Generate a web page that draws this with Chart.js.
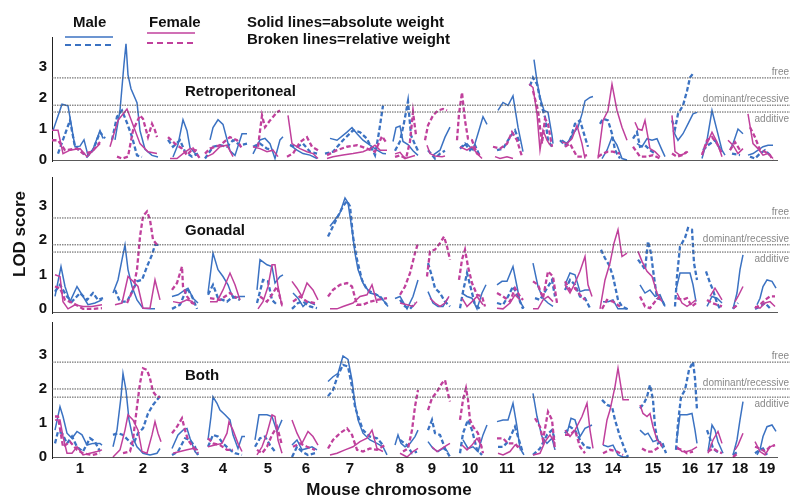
<!DOCTYPE html>
<html>
<head>
<meta charset="utf-8">
<script src="https://cdn.jsdelivr.net/npm/chart.js@4.4.1/dist/chart.umd.min.js"></script>
<style>
  body { margin: 0; background: #fff; }
  #wrap { position: relative; width: 800px; height: 501px; overflow: hidden;
          font-family: "Liberation Sans", Arial, sans-serif; color: #111; background: #fff; }
  #wrap canvas { position: absolute; left: 0; top: 0; }
  .t { position: absolute; white-space: nowrap; font-weight: bold; }
</style>
</head>
<body>
<div id="wrap">
  <canvas id="c1" width="800" height="501"></canvas>
  <canvas id="c2" width="800" height="501"></canvas>
  <canvas id="c3" width="800" height="501"></canvas>

  <div class="t" style="left:73px;top:14px;font-size:15px;line-height:16px">Male</div>
  <div class="t" style="left:149px;top:14px;font-size:15px;line-height:16px">Female</div>
  <div class="t" style="left:247px;top:14px;font-size:15px;line-height:16px">Solid lines=absolute weight</div>
  <div class="t" style="left:247px;top:31px;font-size:15px;line-height:16px">Broken lines=relative weight</div>
  <svg style="position:absolute;left:0;top:0" width="220" height="60">
    <line x1="65" y1="37" x2="113" y2="37" stroke="#3b72c2" stroke-width="1.6"/>
    <line x1="65" y1="45" x2="113" y2="45" stroke="#3b72c2" stroke-width="2.2" stroke-dasharray="6,4"/>
    <line x1="147" y1="33" x2="195" y2="33" stroke="#c0409c" stroke-width="1.6"/>
    <line x1="147" y1="43" x2="195" y2="43" stroke="#c0409c" stroke-width="2.2" stroke-dasharray="6,4"/>
  </svg>
  <div class="t" style="left:-23px;top:225px;width:86px;text-align:center;font-size:17px;line-height:18px;transform:rotate(-90deg)">LOD score</div>
  <div class="t" style="left:289px;top:481px;width:200px;text-align:center;font-size:17px;line-height:18px">Mouse chromosome</div>
</div>

<script>
// --- chromosome axis ---
const chromLabels = ["1","2","3","4","5","6","7","8","9","10","11","12","13","14","15","16","17","18","19"];
const chromTickPos = [28, 91, 133, 171, 216, 254, 298, 348, 380, 418, 455, 494, 531, 561, 601, 638, 663, 688, 715];
const genomeEnd = 738;
const baselineEnd = 726;
const lodTicks = [0, 1, 2, 3];

// --- significance thresholds: free, dominant/recessive, additive ---
const thresholdNames = ["free", "dominant/recessive", "additive"];
const retroThresholds = [2.65, 1.77, 1.55];
const gonThresholds = [2.64, 1.86, 1.65];
const bothThresholds = [2.79, 2.0, 1.76];

// --- LOD curves, one segment per chromosome: [genome position, LOD] ---
const retroMaleAbs = [
  [[1,0.95],[10,1.8],[16,1.75],[23,0.43],[28,0.45],[32,0.65],[36,0.15],[41,0.35],[48,0.95],[51,0.7]],
  [[63,0.65],[68,1.6],[72,3.1],[74,3.75],[76,2.75],[79,2.3],[85,1.85],[88,0.95],[93,0.35],[100,0.15],[106,0.1]],
  [[121,0.1],[126,0.5],[131,1.3],[135,0.95],[138,0.4],[145,0.15]],
  [[158,0.65],[161,1.05],[166,1.3],[171,1.15],[178,0.3],[183,0.15],[190,0.85],[195,0.85]],
  [[201,0.2],[208,0.65],[213,0.7],[218,0.53],[223,0.05],[228,0.65],[231,0.75]],
  [[238,0.48],[245,0.32],[251,0.21],[258,0.16],[265,0.05]],
  [[278,0.7],[285,0.64],[295,0.9],[300,1.05],[305,0.85],[311,0.64],[318,0.48],[325,0.32],[331,0.21],[334,0.2]],
  [[341,0.6],[344,1.05],[348,1.1],[351,0.6],[356,0.5],[361,0.3],[366,0.15]],
  [[381,0.16],[388,0.32],[393,0.74],[398,1.06]],
  [[410,0.43],[415,0.53],[421,0.32],[427,0.96],[431,1.4],[435,1.15]],
  [[446,1.6],[451,1.86],[456,1.76],[461,2.07],[466,1.06],[471,0.27]],
  [[482,3.24],[485,2.55],[488,2.02],[492,1.6],[496,1.54],[500,0.8],[501,0.53]],
  [[510,0.64],[515,0.53],[521,0.85],[526,1.06],[530,1.49],[533,1.91],[538,2.02],[541,2.05]],
  [[550,0.05],[555,0.32],[560,0.74],[565,0.48],[570,0.05],[575,0]],
  [[585,0.53],[590,0.43],[595,0.69],[600,0.64],[605,0.69],[610,0.32],[613,0.11]],
  [[621,0.96],[626,0.64],[631,0.85],[636,1.17],[641,1.49],[645,1.54]],
  [[650,0.05],[655,0.64],[660,1.6],[665,0.96],[670,0.32],[673,0.16]],
  [[678,0.32],[681,0.53],[686,1.0],[691,0.85]],
  [[696,0.16],[701,0.21],[706,0.32],[711,0.43],[716,0.48],[721,0.48]]
];
const retroMaleRel = [
  [[6,0.21],[18,1.28],[23,0.43],[28,0.32],[35,0.11],[41,0.32],[48,0.9],[53,0.7]],
  [[60,0.65],[65,1.4],[70,1.6],[75,1.2],[80,0.75],[85,0.15],[90,0.1]],
  [[116,0.65],[121,0.43],[128,0.64],[133,0.27],[140,0.11],[146,0.21]],
  [[153,0.05],[161,0.43],[168,0.48],[175,0.43],[181,0.64],[188,0.48],[195,0.53]],
  [[201,0.43],[208,0.53],[215,0.37],[221,0.32]],
  [[238,0.48],[245,0.43],[251,0.53],[258,0.27],[265,0.21]],
  [[273,0.21],[281,0.27],[291,0.64],[301,0.96],[308,0.9],[315,0.69],[318,0.48],[323,0.16],[327,0.9],[331,1.76]],
  [[343,0.3],[348,0.6],[352,1.2],[356,1.9],[359,0.8],[363,0.5],[366,0.3]],
  [[376,0.32],[383,0.05],[388,0.21],[393,0.3]],
  [[408,0.37],[413,0.53],[418,0.32],[423,0.48],[428,0.11]],
  [[445,0.32],[451,0.37],[458,0.74],[463,0.96],[468,0.53]],
  [[478,2.39],[481,2.66],[485,2.45],[490,1.7],[493,1.38],[496,0.64],[500,0.43]],
  [[508,0.64],[513,0.48],[518,0.64],[523,1.17],[528,1.28],[533,0.74],[536,0.43]],
  [[548,1.17],[551,1.33],[556,1.28],[560,0.85],[563,0.32],[568,0.05]],
  [[581,0.69],[585,0.9],[588,0.43],[593,0.48],[598,0.32],[603,0.21]],
  [[620,1.28],[623,1.0],[626,1.49],[631,1.76],[635,2.23],[638,2.66],[641,2.79]],
  [[651,0.32],[656,0.48],[663,0.64],[668,0.37]],
  [[680,0.21],[688,0.16]],
  [[698,0.11],[703,0.05],[708,0.21],[713,0.32],[718,0.16]]
];
const retroFemAbs = [
  [[0,0.96],[6,0.96],[11,0.21],[18,0.32],[28,0.37],[35,0.11],[45,0.43],[48,0.53]],
  [[58,0.43],[66,1.28],[75,1.65],[80,1.22],[83,0.96],[88,0.53],[96,0.27],[105,0.21]],
  [[118,0.05],[125,0.05],[131,0.21],[138,0.37],[145,0.32]],
  [[155,0.11],[161,0.21],[168,0.43],[175,0.48],[181,0.11]],
  [[201,0.43],[208,0.37],[215,0.27],[221,0.32],[226,0.11]],
  [[236,1.44],[240,0.53],[248,0.37],[255,0.27],[261,0.21],[266,0.05]],
  [[275,0.05],[281,0.11],[291,0.16],[301,0.21],[311,0.27],[318,0.37],[323,0.48],[328,0.32],[335,0.32]],
  [[343,0.2],[348,0.25],[353,0.05],[358,0.1],[363,0.15]],
  [[375,0.48],[378,0.21],[383,0.13],[390,0.11],[393,0.13]],
  [[408,0.43],[415,0.32],[420,0.43],[425,0.21],[430,0.05]],
  [[443,0.11],[448,0.05],[455,0.11],[461,0.05]],
  [[477,2.45],[481,2.34],[485,1.49],[488,0.32],[491,0.96],[495,0.64],[498,0.48]],
  [[510,0.58],[515,0.53],[520,0.69],[525,1.12],[530,0.53],[533,0.05]],
  [[546,0.05],[551,1.28],[556,1.6],[560,2.45],[565,1.6],[570,1.06],[575,0.64]],
  [[583,1.22],[586,1.0],[590,0.96],[593,1.28],[598,0.37],[603,0.27],[608,0.11]],
  [[620,1.44],[623,0.27],[628,0.16],[633,0.21],[636,0.27]],
  [[650,0.21],[655,0.53],[660,0.9],[665,0.58],[670,0.11]],
  [[676,0.64],[681,0.48],[686,0.21],[691,0.37]],
  [[696,1.49],[701,0.53],[706,0.37],[711,0.16],[716,0.21],[721,0.05]]
];
const retroFemRel = [
  [[0,0.64],[6,0.64],[13,0.32],[25,0.37],[31,0.21],[40,0.27],[48,0.58]],
  [[65,0.11],[70,0.05],[76,0.11],[81,0.96],[88,1.44],[91,1.33],[96,0.74],[100,1.17],[103,0.96],[105,0.74]],
  [[116,0.74],[123,0.53],[130,0.37],[135,0.16],[141,0.37],[148,0.05]],
  [[153,0.21],[158,0.37],[168,0.48],[178,0.74],[185,0.64],[190,0.37]],
  [[206,0.43],[210,1.44],[213,1.06],[218,1.28],[225,1.54],[228,1.6]],
  [[235,0.11],[241,0.21],[248,0.58],[255,0.74],[260,0.43],[266,0.32]],
  [[275,0.16],[285,0.32],[295,0.43],[305,0.48],[315,0.37],[323,0.27],[330,0.77],[335,0.53]],
  [[343,0.1],[348,0.15],[354,0.05],[358,0.6],[361,1.55],[364,0.8]],
  [[373,0.64],[376,1.12],[381,1.44],[386,1.6],[391,1.65],[395,1.6]],
  [[405,0.64],[407,1.49],[410,2.18],[413,1.28],[416,0.69],[420,0.64],[425,0.21],[430,0.11]],
  [[441,0.43],[448,0.37],[455,0.53],[460,0.9],[465,0.64],[470,0.11]],
  [[481,2.23],[486,1.6],[490,0.53],[493,1.33],[496,1.17],[500,0.43]],
  [[513,0.43],[518,0.53],[525,0.11],[530,0.11],[535,0.16]],
  [[546,0.11],[551,0.21],[556,0.27],[561,0.27],[568,0.21]],
  [[581,0.43],[588,0.11],[595,0.11],[601,0.16],[608,0.05]],
  [[620,0.21],[625,0.11],[630,0.16],[635,0.27]],
  [[650,0.16],[655,0.64],[660,0.74],[665,0.53],[670,0.21]],
  [[678,0.32],[683,0.58],[688,0.32]],
  [[698,1.06],[703,0.74],[708,0.32],[713,0.27],[718,0.16],[721,0]]
];

const gonMaleAbs = [
  [[3,0.36],[9,1.23],[13,0.65],[18,0.21],[25,0.65],[30,0.41],[36,0.12],[43,0.17],[50,0.26]],
  [[61,0.46],[66,0.84],[70,1.43],[73,1.86],[76,1.14],[80,0.65],[85,0.26],[91,0.02],[98,0],[103,0]],
  [[120,0.36],[126,0.41],[133,0.55],[136,0.6],[141,0.31],[146,0.17]],
  [[156,0.46],[161,1.62],[166,1.14],[171,0.94],[176,0.7],[181,0.31],[188,0.36],[193,0.36]],
  [[205,0.55],[208,1.43],[215,1.28],[220,1.23],[223,0.75],[228,0.94],[231,0.99]],
  [[241,0.46],[246,0.31],[251,0.07],[256,0.21],[263,0.12]],
  [[278,2.4],[283,2.59],[288,2.79],[293,3.22],[296,3.08],[300,2.3],[303,1.62],[306,1.14],[311,0.75],[318,0.46],[325,0.41],[331,0.26],[336,0.07]],
  [[343,0.3],[348,0.36],[351,0.21],[355,0],[361,0.36],[366,0.84]],
  [[376,0.5],[381,0.17],[386,0.07],[391,0.07],[396,0.31]],
  [[410,0.46],[415,0.36],[420,0.31],[425,0],[430,0.46],[434,0.7]],
  [[445,0.7],[450,0.8],[455,0.8],[461,1.23],[465,0.65],[468,0.21],[472,0.02]],
  [[481,1.33],[486,0.65],[491,0.31],[496,0.17],[501,0.07]],
  [[513,0.7],[518,1.04],[523,0.99],[528,0.5],[533,0.55],[538,0.55]],
  [[551,0.21],[556,0.21],[561,0.26],[566,0],[571,0],[576,0]],
  [[588,0.7],[593,0.46],[598,0.55],[603,0.36],[608,0.41],[613,0.07]],
  [[624,0.55],[628,1.04],[633,1.04],[638,1.04],[641,0.7],[644,0.21]],
  [[655,0.07],[660,0.36],[665,0.31],[670,0.17]],
  [[681,0],[685,0.46],[688,1.14],[691,1.57]],
  [[705,0.12],[708,0.31],[711,0.65],[715,0.84],[720,0.8],[724,0.6]]
];
const gonMaleRel = [
  [[3,0.5],[8,0.7],[15,0.36],[20,0.21],[28,0.46],[35,0.26],[41,0.46],[46,0.26],[51,0.31]],
  [[63,0.55],[68,0.21],[75,0.21],[81,0.55],[85,0.8],[90,0.84],[95,1.23],[100,1.57],[103,1.86],[108,1.86]],
  [[120,0],[128,0.12],[135,0.6],[140,0.36],[145,0]],
  [[156,0.41],[161,0.7],[166,0.31],[175,0.21],[181,0.36],[188,0.26]],
  [[205,0.17],[211,0.84],[216,0.8],[220,0.26],[225,0.12]],
  [[240,0],[246,0.17],[251,0.21],[258,0.07],[265,0.02]],
  [[276,2.1],[281,2.4],[286,2.69],[291,2.98],[295,3.13],[298,2.98],[301,2.1],[305,1.43],[310,0.84],[315,0.55],[321,0.46],[328,0.36],[335,0.12]],
  [[348,0.26],[353,0.07],[358,0],[363,0.17]],
  [[376,1.33],[380,0.94],[383,0.6],[388,0.46],[393,0.21],[398,0.07]],
  [[408,0.02],[411,0.5],[415,1.04],[418,0.7],[423,0.12],[428,0]],
  [[445,0.17],[451,0.12],[456,0.36],[461,0.65],[466,0.36],[471,0]],
  [[483,0.31],[488,0.26],[495,0.6],[500,0.84],[503,0.36]],
  [[513,0.55],[518,0.84],[523,0.7],[528,0.36],[533,0.31],[538,0.02]],
  [[549,1.72],[553,1.47],[557,1.28],[561,0.94],[566,0.26],[570,0.07],[575,0]],
  [[586,1.43],[590,1.28],[593,1.14],[596,1.96],[599,1.62],[601,1.14],[605,0.31],[610,0.26],[613,0.07]],
  [[623,0.07],[625,0.94],[628,1.81],[633,2.06],[636,2.35],[640,2.3],[642,1.33],[645,0.84]],
  [[654,1.09],[658,0.75],[661,0.55],[665,0.17],[668,0]],
  [[681,0],[686,0.17]],
  [[703,0],[708,0.07],[713,0.17],[718,0.02]]
];
const gonFemAbs = [
  [[3,0.99],[8,0.94],[11,0.21],[16,0],[23,0.12],[31,0.07],[40,0.07],[50,0.12]],
  [[63,0.12],[70,0.17],[76,0.94],[81,0.8],[86,0.65],[91,0.02],[98,0.02],[103,0.84],[108,0.26]],
  [[121,0.21],[128,0.17],[135,0.26],[141,0.21]],
  [[158,0.21],[165,0.21],[171,0.55],[178,1.04],[183,0.7],[188,0.26]],
  [[206,0],[211,0.21],[216,0.65],[220,1.28],[223,1.28],[226,0.65],[230,0.07]],
  [[240,0.8],[245,0.6],[250,0.36],[255,0.75],[261,0.55],[266,0.26]],
  [[278,0],[285,0],[291,0.07],[301,0.17],[308,0.36],[315,0.41],[320,0.7],[325,0.17]],
  [[348,0.17],[355,0.12],[361,0.07],[365,0.21]],
  [[378,0.31],[383,0.17],[388,0.07],[393,0.17],[397,0.36]],
  [[410,0.31],[415,0.07],[420,0.21],[425,0.36],[431,0.12]],
  [[445,0.02],[451,0],[458,0.17],[463,0.41],[468,0.26]],
  [[481,0],[486,0],[491,0.26],[496,0.36],[501,0.21]],
  [[513,0.7],[518,0.46],[523,0.75],[528,1.09],[533,1.52],[536,0.7],[540,0.36]],
  [[548,0],[553,0.84],[558,1.33],[562,1.91],[566,2.3],[570,1.52],[575,1.62]],
  [[586,1.67],[590,1.38],[595,1.09],[600,0.94],[605,0.46],[610,0.21]],
  [[625,0.46],[630,0.17],[635,0.07],[640,0.17],[644,0.26]],
  [[658,0.36],[663,0.6],[666,0.46],[670,0.26]],
  [[683,0.21],[686,0.36],[691,0.65]],
  [[703,0.07],[708,0.02],[713,0.17],[718,0.21],[723,0.07]]
];
const gonFemRel = [
  [[3,0.65],[8,0.6],[13,0.26],[21,0.17],[31,0],[41,0],[50,0.02]],
  [[75,0.17],[81,0.55],[85,1.14],[88,2.1],[91,2.69],[95,2.83],[98,2.59],[101,2.01],[105,1.86]],
  [[120,0.55],[125,0.75],[130,1.23],[131,0.65],[135,0.36],[140,0.17],[145,0.12]],
  [[158,0.31],[168,0.26],[178,0.46],[185,0.31]],
  [[208,0.36],[215,0.21],[221,0.46],[225,0.65],[230,0.12]],
  [[241,0.21],[248,0.36],[255,0.21],[263,0.17]],
  [[276,0.36],[281,0.55],[288,0.7],[295,0.75],[300,0.65],[305,0.12],[311,0.12],[318,0.21],[325,0.26],[335,0.31]],
  [[348,0.41],[353,0.65],[358,1.04],[363,1.62],[366,1.91]],
  [[375,0.94],[378,1.67],[383,1.72],[388,1.91],[392,2.1],[395,1.81],[398,1.43]],
  [[407,0.84],[410,1.43],[413,1.72],[416,1.23],[420,0.75],[425,0.41],[430,0.36],[433,0.07]],
  [[445,0.46],[451,0.36],[458,0.21],[463,0.6],[468,0.36],[471,0.26]],
  [[481,0.8],[486,0.7],[491,0.31],[496,1.09],[501,0.94],[505,0.17]],
  [[513,0.8],[518,0.55],[523,0.6],[528,0.41],[533,0.26]],
  [[550,0],[555,0.26],[561,0.21],[568,0.07]],
  [[588,0.36],[593,0.07],[598,0.02],[603,0.21],[608,0.36]],
  [[625,0.31],[630,0.26],[635,0.31],[640,0.07],[644,0.17]],
  [[655,0.26],[660,0.17],[665,0.12],[670,0.07]],
  [[681,0.02],[686,0.12]],
  [[703,0.02],[708,0.12],[713,0.26],[718,0.36],[723,0.36]]
];

const bothMaleAbs = [
  [[3,0.79],[8,1.48],[11,1.19],[15,0.7],[20,0.55],[25,0.75],[30,0.65],[35,0.35],[41,0.4],[48,0.4],[50,0.35]],
  [[61,0.3],[65,0.79],[69,1.77],[71,2.46],[74,1.97],[77,1.09],[81,0.55],[85,0.3],[91,0.11],[98,0.06],[105,0.11],[108,0.25]],
  [[120,0.25],[126,0.65],[131,0.79],[135,0.84],[138,0.55],[143,0.16],[146,0.06]],
  [[156,0.5],[159,1.19],[161,1.77],[165,1.58],[168,1.38],[173,1.24],[178,1.09],[181,0.65],[186,0.25],[190,0.6],[193,0.6]],
  [[203,0.5],[207,1.24],[215,1.24],[220,1.19],[225,0.75],[230,1.09]],
  [[240,0.35],[245,0.5],[250,0.21],[255,0.25],[260,0.3],[265,0.21]],
  [[276,2.22],[281,2.36],[286,2.46],[291,2.97],[296,2.87],[300,2.26],[303,1.58],[306,1.09],[311,0.7],[318,0.5],[325,0.4],[331,0.3],[335,0.06]],
  [[343,0.35],[346,0.65],[349,0.4],[353,0.3],[358,0.4],[363,0.6],[366,0.79]],
  [[376,0.45],[381,0.25],[386,0.16],[391,0.25],[396,0.16]],
  [[411,0.5],[416,0.25],[421,0.3],[426,0.16],[431,0.65],[435,0.94]],
  [[445,1.04],[451,1.09],[456,1.09],[461,1.58],[465,0.89],[468,0.25],[472,0.06]],
  [[481,1.87],[485,1.19],[490,0.6],[495,0.4],[500,0.55],[503,0.21]],
  [[515,0.7],[519,1.14],[523,1.09],[528,0.6],[533,0.84],[540,0.94]],
  [[551,0.35],[556,0.3],[561,0.35],[566,0.06],[571,0],[576,0]],
  [[588,0.79],[593,0.65],[596,0.7],[601,0.45],[606,0.5],[611,0.25]],
  [[625,0.55],[628,1.24],[635,1.24],[640,1.28],[643,0.79],[645,0.4]],
  [[656,0.16],[660,0.94],[663,0.79],[666,0.45],[671,0.11]],
  [[681,0.06],[685,0.5],[688,1.09],[691,1.63]],
  [[705,0.06],[708,0.21],[711,0.6],[715,0.89],[720,0.94],[724,0.75]]
];
const bothMaleRel = [
  [[3,0.4],[6,0.75],[10,0.7],[15,0.4],[20,0.6],[25,0.3],[31,0.16],[38,0.55],[43,0.45],[48,0.16]],
  [[61,0.65],[66,0.7],[71,0.65],[76,0.5],[81,0.35],[86,0.7],[91,0.84],[96,1.28],[101,1.53],[105,1.68],[108,1.79]],
  [[120,0.06],[126,0.16],[133,0.55],[138,0.5],[143,0.3],[146,0.06]],
  [[156,0.3],[161,0.65],[166,0.6],[171,0.4],[178,0.21],[183,0.11],[190,0.06]],
  [[203,0.3],[208,0.55],[213,0.6],[218,0.35],[223,0.16]],
  [[240,0],[245,0.3],[250,0.16],[256,0.06],[263,0.11]],
  [[276,1.79],[281,1.97],[286,2.41],[291,2.71],[296,2.66],[300,2.07],[303,1.48],[306,1.19],[311,0.79],[318,0.6],[325,0.55],[331,0.35]],
  [[348,0.5],[355,0.35],[360,0.11],[365,0.16]],
  [[376,0.79],[380,1.09],[383,0.7],[388,0.65],[393,0.25],[398,0]],
  [[408,0.11],[411,0.7],[416,1.09],[420,0.79],[425,0.21],[430,0.06]],
  [[446,0.3],[451,0.3],[456,0.45],[463,0.89],[468,0.4],[471,0.11]],
  [[481,0.06],[488,0.25],[495,0.65],[500,0.79],[503,0.5]],
  [[513,0.7],[518,0.89],[523,0.79],[528,0.5],[533,0.3],[540,0.25]],
  [[550,1.68],[555,1.53],[560,1.48],[563,1.09],[568,0.6],[573,0.21],[576,0]],
  [[588,1.43],[592,1.58],[595,1.77],[598,2.12],[601,1.68],[603,0.89],[606,0.4],[610,0.45],[614,0.11]],
  [[624,0.21],[626,0.99],[629,1.77],[633,1.97],[637,2.56],[641,2.8],[643,2.31],[645,1.38]],
  [[655,0.79],[658,0.55],[661,0.25],[665,0.16],[668,0.11]],
  [[681,0.06],[686,0.16]],
  [[703,0.11],[708,0.21],[711,0.25],[715,0.06]]
];
const bothFemAbs = [
  [[3,1.09],[8,1.09],[11,0.6],[15,0.11],[20,0.11],[25,0.3],[31,0.06],[38,0.11],[45,0.16],[50,0.21]],
  [[61,0],[68,0.21],[73,0.79],[76,1.24],[81,1.09],[86,0.79],[90,0.16],[95,0.11],[100,0.65],[103,1.04],[106,0.7],[109,0.45]],
  [[121,0.11],[128,0.16],[135,0.21],[141,0.25],[146,0.21]],
  [[156,0.3],[163,0.35],[170,0.4],[175,0.7],[177,1.04],[181,0.79],[186,0.4],[190,0.16]],
  [[205,0.06],[210,0.3],[215,0.7],[220,1.24],[223,1.19],[226,0.5],[230,0.11]],
  [[240,1.09],[245,0.7],[250,0.4],[256,0.75],[261,0.6],[266,0.35]],
  [[278,0.06],[285,0.11],[293,0.21],[301,0.3],[308,0.45],[315,0.55],[320,0.79],[325,0.25],[331,0.16]],
  [[348,0.11],[355,0],[361,0.16],[366,0.25]],
  [[380,0.3],[385,0.16],[390,0.25],[395,0.35],[398,0.4]],
  [[410,0.35],[415,0.21],[420,0.35],[425,0.55],[430,0.3]],
  [[446,0.11],[451,0.06],[458,0.16],[463,0.35],[468,0.3]],
  [[481,0.06],[488,0.11],[493,0.45],[498,0.65],[503,0.4]],
  [[513,0.79],[518,0.6],[523,0.79],[530,1.19],[535,1.58],[538,0.79],[541,0.25]],
  [[551,0.35],[555,1.09],[558,1.38],[563,2.07],[566,2.61],[571,1.68],[577,1.68]],
  [[588,1.53],[591,1.28],[595,1.19],[598,1.28],[601,0.89],[605,0.5],[610,0.35]],
  [[625,0.3],[630,0.16],[635,0.16],[640,0.21],[645,0.3]],
  [[656,0.11],[661,0.5],[666,0.75],[670,0.4]],
  [[683,0.21],[686,0.35],[691,0.7]],
  [[703,0.45],[708,0.16],[713,0.06],[718,0.3],[723,0.35]]
];
const bothFemRel = [
  [[3,1.19],[6,1.19],[11,0.3],[18,0.45],[25,0.21],[31,0.11],[40,0.06],[48,0.11]],
  [[71,0.11],[78,0.16],[81,0.5],[85,1.48],[88,2.17],[91,2.61],[95,2.56],[98,2.31],[101,1.92],[105,1.77],[108,1.77]],
  [[120,0.7],[125,0.89],[130,1.14],[133,0.79],[136,0.5],[141,0.3],[146,0.11]],
  [[156,0.55],[161,0.4],[168,0.35],[175,0.21],[181,0.21]],
  [[205,0.21],[210,0.11],[215,0.3],[220,0.65],[225,0.89],[230,0.35]],
  [[241,0.3],[248,0.4],[255,0.3],[263,0.21]],
  [[276,0.25],[281,0.5],[288,0.7],[295,0.84],[300,0.65],[305,0.21],[311,0.16],[318,0.25],[325,0.21],[333,0.35]],
  [[351,0.16],[356,0.25],[360,0.79],[363,1.48],[366,1.97]],
  [[376,1.38],[380,1.73],[385,1.92],[390,2.17],[393,2.26],[396,1.87],[398,1.63]],
  [[408,1.09],[411,1.68],[414,2.02],[416,1.68],[418,1.09],[421,0.89],[426,0.7],[431,0.11]],
  [[445,0.55],[451,0.55],[456,0.4],[463,0.4],[468,0.21]],
  [[483,1.14],[488,0.89],[491,0.5],[496,1.33],[500,1.09],[503,0.21]],
  [[513,0.65],[518,0.65],[523,0.79],[528,0.3],[533,0.11]],
  [[551,0.11],[558,0.21],[565,0.16],[571,0.06]],
  [[590,0.25],[595,0.16],[600,0.16],[605,0.25],[610,0.35]],
  [[625,0.25],[630,0.21],[635,0.11],[641,0.16]],
  [[656,0.16],[661,0.25],[666,0.16],[670,0.11]],
  [[681,0],[686,0.11]],
  [[703,0.3],[708,0.25],[713,0.16],[718,0.3],[723,0.35]]
];

// --- styling ---
const BLUE = "#3b72c2";
const PINK = "#c0409c";
const FONT = '"Liberation Sans", Arial, Helvetica, sans-serif';
const seriesStyle = [
  { color: BLUE, dash: [], width: 1.5 },       // male, absolute
  { color: BLUE, dash: [4.5, 2.5], width: 2.3 }, // male, relative
  { color: PINK, dash: [], width: 1.5 },       // female, absolute
  { color: PINK, dash: [4.5, 2.5], width: 2.3 }  // female, relative
];
const thresholdDy = [-6, -6, 7];

// flatten chromosome segments, with a null point between them so the line breaks
function toPoints(segments) {
  const out = [];
  segments.forEach(seg => {
    seg.forEach(([x, y]) => out.push({ x, y }));
    out.push({ x: seg[seg.length - 1][0] + 0.5, y: null });
  });
  return out;
}

const panelText = {
  id: "panelText",
  afterDatasetsDraw(chart, args, opts) {
    const { ctx, chartArea, scales } = chart;
    ctx.save();
    ctx.textBaseline = "middle";
    ctx.fillStyle = "#111";
    ctx.font = "bold 15px " + FONT;
    ctx.textAlign = "left";
    ctx.fillText(opts.title, chartArea.left + 133, chartArea.top + opts.titleDy);
    ctx.font = "10px " + FONT;
    ctx.fillStyle = "#888";
    ctx.textAlign = "right";
    opts.thresholds.forEach((t, i) => {
      ctx.fillText(thresholdNames[i], chartArea.right - 1, scales.y.getPixelForValue(t) + thresholdDy[i]);
    });
    ctx.restore();
  }
};

const panels = [
  { canvas: "c1", title: "Retroperitoneal", series: [retroMaleAbs, retroMaleRel, retroFemAbs, retroFemRel],
    thresholds: retroThresholds, yMin: -0.03, yMax: 3.97, top: 37, bottom: 161, titleDy: 55, showX: false },
  { canvas: "c2", title: "Gonadal", series: [gonMaleAbs, gonMaleRel, gonFemAbs, gonFemRel],
    thresholds: gonThresholds, yMin: -0.12, yMax: 3.83, top: 177, bottom: 313, titleDy: 54, showX: false },
  { canvas: "c3", title: "Both", series: [bothMaleAbs, bothMaleRel, bothFemAbs, bothFemRel],
    thresholds: bothThresholds, yMin: -0.03, yMax: 3.97, top: 322, bottom: 458, titleDy: 54, showX: true }
];

const X_AXIS_H = 30;

panels.forEach(p => {
  const datasets = [];

  p.thresholds.forEach(t => {
    datasets.push({
      data: [{ x: 0, y: t }, { x: genomeEnd, y: t }],
      borderColor: "#555", borderWidth: 1, borderDash: [1.5, 1]
    });
  });

  datasets.push({
    data: [{ x: 0, y: p.yMin }, { x: baselineEnd, y: p.yMin }],
    borderColor: "#222", borderWidth: 1.3
  });

  // pink first so blue draws over it
  [2, 3, 0, 1].forEach(i => {
    const s = seriesStyle[i];
    datasets.push({
      data: toPoints(p.series[i]),
      borderColor: s.color, borderWidth: s.width, borderDash: s.dash
    });
  });

  new Chart(document.getElementById(p.canvas), {
    type: "line",
    data: { datasets },
    plugins: [panelText],
    options: {
      responsive: false,
      animation: false,
      spanGaps: false,
      elements: { point: { radius: 0 }, line: { tension: 0, fill: false } },
      layout: {
        padding: {
          left: 0, right: 10, top: p.top,
          bottom: p.showX ? 501 - p.bottom - X_AXIS_H : 501 - p.bottom
        }
      },
      plugins: {
        legend: { display: false },
        tooltip: { enabled: false },
        panelText: { title: p.title, thresholds: p.thresholds, titleDy: p.titleDy }
      },
      scales: {
        x: {
          type: "linear", min: 0, max: genomeEnd,
          display: p.showX,
          grid: { display: false, drawTicks: false },
          border: { display: false },
          afterFit: s => { s.height = p.showX ? X_AXIS_H : 0; },
          afterBuildTicks: s => { s.ticks = chromTickPos.map(v => ({ value: v })); },
          ticks: {
            autoSkip: false, maxRotation: 0, padding: 2, color: "#111",
            font: { family: FONT, size: 15, weight: "bold" },
            callback: (v, i) => chromLabels[i]
          }
        },
        y: {
          type: "linear", min: p.yMin, max: p.yMax,
          grid: { display: false, drawTicks: false },
          border: { display: true, color: "#222", width: 1 },
          afterFit: s => { s.width = 52; },
          afterBuildTicks: s => { s.ticks = lodTicks.map(v => ({ value: v })); },
          ticks: {
            padding: 5, color: "#111",
            font: { family: FONT, size: 15, weight: "bold" }
          }
        }
      }
    }
  });
});
</script>
</body>
</html>
